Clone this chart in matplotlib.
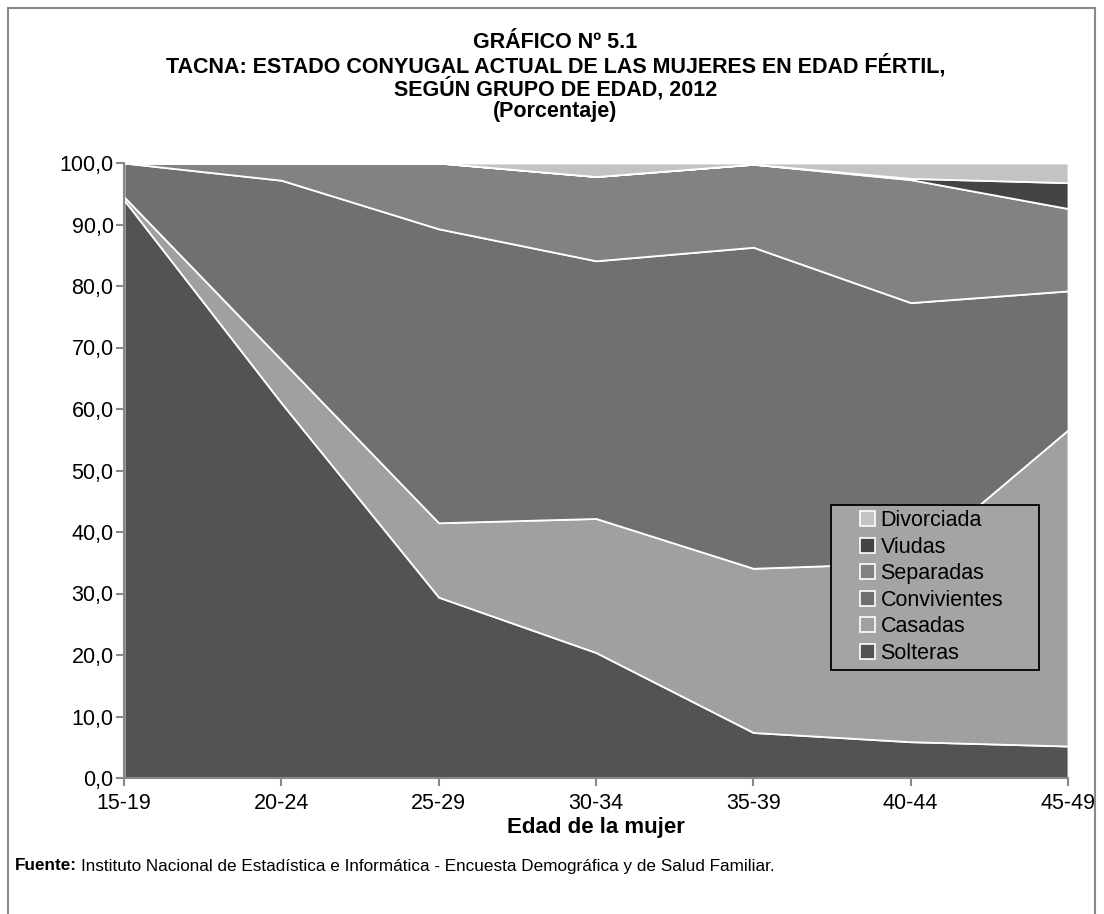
import matplotlib
matplotlib.use('Agg')
import matplotlib.pyplot as plt
from matplotlib.patches import Rectangle, Patch
import numpy as np

plt.rcParams['font.family'] = ['Liberation Sans Narrow', 'Liberation Sans', 'DejaVu Sans']

# ── Data (percentages) ────────────────────────────────────────
grupos = ['15-19', '20-24', '25-29', '30-34', '35-39', '40-44', '45-49']
solteras = [94.0, 61.0, 29.4, 20.4, 7.4, 5.9, 5.2]
casadas = [0.5, 7.0, 12.1, 21.8, 26.7, 29.1, 51.4]
convivientes = [5.5, 29.2, 47.8, 41.9, 52.2, 42.3, 22.6]
separadas = [0.0, 2.8, 10.7, 13.7, 13.5, 20.0, 13.4]
viudas = [0.0, 0.0, 0.0, 0.0, 0.0, 0.2, 4.2]
divorciada = [0.0, 0.0, 0.0, 2.2, 0.2, 2.5, 3.2]

series = [solteras, casadas, convivientes, separadas, viudas, divorciada]
labels = ['Solteras', 'Casadas', 'Convivientes', 'Separadas', 'Viudas', 'Divorciada']
colors = ['#535353', '#a0a0a0', '#707070', '#828282', '#444444', '#c3c3c3']

W, H = 1104, 914
fig = plt.figure(figsize=(W / 100, H / 100), dpi=100)
ax = fig.add_axes([124 / W, 1 - 778 / H, 944 / W, 615 / H])

x = np.arange(len(grupos))
ax.stackplot(x, *series, colors=colors, edgecolor='white', linewidth=1.3)

ax.set_xlim(0, len(grupos) - 1)
ax.set_ylim(0, 100)
yt = np.arange(0, 101, 10)
ax.set_yticks(yt)
ax.set_yticklabels([f'{v:.1f}'.replace('.', ',') for v in yt])
ax.set_xticks(x)
ax.set_xticklabels(grupos)
ax.tick_params(axis='both', labelsize=15.5, color='#888888', length=6, width=1.5)
ax.tick_params(axis='x', pad=5)
ax.tick_params(axis='y', pad=1.5)
for s in ['top', 'right']:
    ax.spines[s].set_visible(False)
for s in ['left', 'bottom']:
    ax.spines[s].set_color('#888888')
    ax.spines[s].set_linewidth(1.5)
ax.set_xlabel('Edad de la mujer', fontsize=16, fontweight='bold', labelpad=2)

# legend box (drawn by hand so it can be wider than its entries)
box_x0 = (831 - 124) / 944
box_y0 = (778 - 670) / 615
ax.add_patch(Rectangle((box_x0, box_y0), 208 / 944, 165 / 615, transform=ax.transAxes,
                       facecolor='#a4a4a4', edgecolor='black', linewidth=1.3,
                       zorder=4, clip_on=False))
handles = [Patch(facecolor=c, edgecolor='white', linewidth=1.2) for c in colors][::-1]
leg = ax.legend(handles, labels[::-1], loc='upper left',
                bbox_to_anchor=((860 - 124) / 944, (778 - 510) / 615),
                fontsize=15.5, frameon=False, handlelength=0.7, handleheight=0.7,
                handletextpad=0.25, labelspacing=0.26, borderpad=0, borderaxespad=0)
leg.set_zorder(5)

# titles
title_lines = ['GRÁFICO Nº 5.1',
               'TACNA: ESTADO CONYUGAL ACTUAL DE LAS MUJERES EN EDAD FÉRTIL,',
               'SEGÚN GRUPO DE EDAD, 2012',
               '(Porcentaje)']
for i, t in enumerate(title_lines):
    fig.text(0.503, 1 - (43 + 23 * i) / H, t, ha='center', va='center',
             fontsize=15.5, fontweight='bold')

# source note
fy = 1 - 866 / H
t1 = fig.text(15 / W, fy, 'Fuente:', ha='left', va='center', fontsize=12.3, fontweight='bold')
r = fig.canvas.get_renderer()
x_end = t1.get_window_extent(renderer=r).x1
fig.text((x_end + 4) / W, fy,
         'Instituto Nacional de Estadística e Informática - Encuesta Demográfica y de Salud Familiar.',
         ha='left', va='center', fontsize=12.3)

# outer frame
fig.patches.append(Rectangle((8 / W, -0.01), 1087 / W, 1 - 8 / H + 0.01,
                             transform=fig.transFigure, fill=False,
                             edgecolor='#888888', linewidth=1.5))

fig.savefig('out.png', dpi=100)
